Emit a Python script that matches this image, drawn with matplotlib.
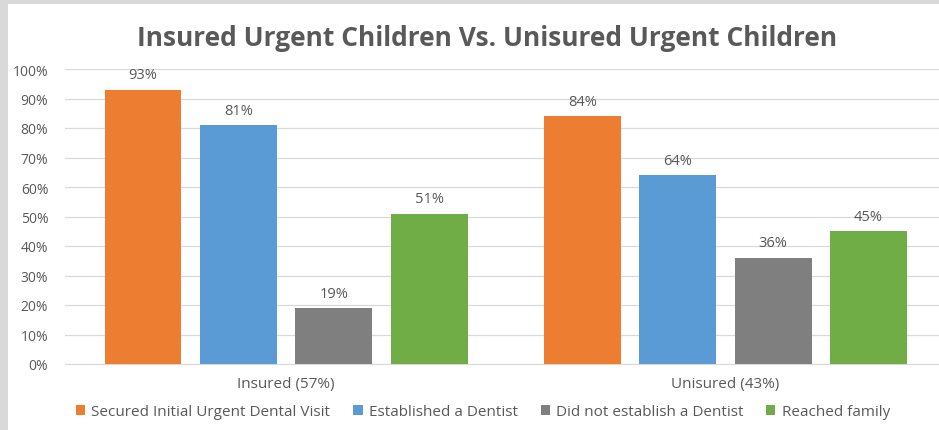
import numpy as np
import matplotlib.pyplot as plt
from matplotlib.patches import Rectangle

# data
groups = ["Insured (57%)", "Unisured (43%)"]
series = ["Secured Initial Urgent Dental Visit", "Established a Dentist",
          "Did not establish a Dentist", "Reached family"]
values = [
    [93, 84],   # Secured Initial Urgent Dental Visit
    [81, 64],   # Established a Dentist
    [19, 36],   # Did not establish a Dentist
    [51, 45],   # Reached family
]
colors = ["#ED7D31", "#5B9BD5", "#7F7F7F", "#70AD47"]
yticks = np.arange(0, 101, 10)

TXT = "#595959"
plt.rcParams['font.family'] = ['Open Sans', 'DejaVu Sans']

fig = plt.figure(figsize=(9.39, 4.31), dpi=100, facecolor="#d9d9d9")
# white chart area (grey strip on left / top like the screenshot)
fig.patches.append(Rectangle((8 / 939, 0), 1, 1 - 5 / 431,
                             transform=fig.transFigure, facecolor="white",
                             edgecolor="none", zorder=-10))

ax = fig.add_axes([65 / 939, 1 - 365 / 431, 1 - 65 / 939, (365 - 70) / 431])
ax.set_facecolor("none")
ax.set_zorder(5)

x = np.arange(len(groups))
step = 0.217
width = 0.175
for i, (name, vals, c) in enumerate(zip(series, values, colors)):
    pos = x + (i - 1.5) * step
    bars = ax.bar(pos, vals, width=width, color=c, label=name, zorder=3)
    for b, v in zip(bars, vals):
        ax.text(b.get_x() + b.get_width() / 2, v + 2.5, f"{v}%",
                ha="center", va="bottom", fontsize=10.5, color=TXT)

ax.set_ylim(0, 100)
ax.set_xlim(-0.503, (939 - 286) / 439.5)
ax.set_yticks(yticks)
ax.set_yticklabels([f"{t}%" for t in yticks], fontsize=10, color=TXT)
ax.grid(axis="y", color="#d9d9d9", linewidth=0.9, zorder=0)
ax.set_xticks(x)
ax.set_xticklabels(groups, fontsize=11, color=TXT)
ax.tick_params(axis="both", length=0)
ax.tick_params(axis="x", pad=9)
ax.tick_params(axis="y", pad=12)
for s in ["top", "right", "left"]:
    ax.spines[s].set_visible(False)
ax.spines["bottom"].set_color("#d9d9d9")

fig.text(487 / 939, 1 - 38 / 431, "Insured Urgent Children Vs. Unisured Urgent Children",
         ha="center", va="center", fontsize=19, fontweight="bold", color=TXT)

leg = fig.legend(loc="center", bbox_to_anchor=(483 / 939, 1 - 413 / 431), ncol=4,
                 frameon=False, fontsize=11, handlelength=0.6, handleheight=0.6,
                 handletextpad=0.4, columnspacing=1.5)
for t in leg.get_texts():
    t.set_color(TXT)

fig.savefig("out.png", dpi=100, facecolor=fig.get_facecolor())
